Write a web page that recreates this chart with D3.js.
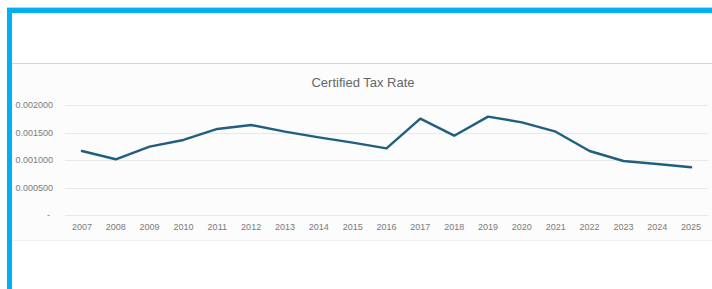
<!DOCTYPE html>
<html>
<head>
<meta charset="utf-8">
<script src="https://cdn.jsdelivr.net/npm/d3@7"></script>
<style>
  html, body { margin: 0; padding: 0; background: #fff; }
  svg { display: block; }
</style>
</head>
<body>
<svg id="chart" width="712" height="289"></svg>
<script>
const years = ["2007","2008","2009","2010","2011","2012","2013","2014","2015","2016","2017","2018","2019","2020","2021","2022","2023","2024","2025"];
const taxRates = [0.001164,0.001013,0.001242,0.001364,0.001564,0.001636,0.001515,0.001412,0.001315,0.001212,0.001752,0.001442,0.001788,0.001685,0.001515,0.001164,0.000982,0.000927,0.000867];
const yTicks = [0, 0.0005, 0.001, 0.0015, 0.002];
const title = "Certified Tax Rate";

const svg = d3.select("#chart");
const W = 712, H = 289;
const font = "'Liberation Sans', Arial, sans-serif";

// chart panel background
svg.append("rect").attr("x", 12).attr("y", 63).attr("width", W - 12).attr("height", 177).attr("fill", "#fcfcfc");
svg.append("line").attr("x1", 12).attr("x2", W).attr("y1", 63.5).attr("y2", 63.5).attr("stroke", "#d4d4d4").attr("stroke-width", 1);
svg.append("line").attr("x1", 12).attr("x2", W).attr("y1", 240.5).attr("y2", 240.5).attr("stroke", "#efefef").attr("stroke-width", 1);

const x = d3.scaleBand().domain(years).range([65, 708]);
const y = d3.scaleLinear().domain([0, 0.002]).range([215, 105]);

// gridlines
svg.append("g").selectAll("line").data(yTicks).join("line")
  .attr("x1", 65).attr("x2", 708)
  .attr("y1", d => Math.round(y(d)) + 0.5).attr("y2", d => Math.round(y(d)) + 0.5)
  .attr("stroke", "#e8e8e8").attr("stroke-width", 1.2);

// y axis labels
const fmt = d => d === 0 ? "-" : d.toFixed(6);
svg.append("g").selectAll("text").data(yTicks).join("text")
  .attr("x", d => d === 0 ? 50 : 53).attr("y", d => y(d)).attr("dy", "0.35em")
  .attr("text-anchor", "end").attr("font-family", font).attr("font-size", 9)
  .attr("fill", "#7a7a7a").text(fmt);

// x axis labels
const xAxis = d3.axisBottom(x).tickSize(0).tickPadding(0);
const gx = svg.append("g").attr("transform", "translate(0,224)").call(xAxis);
gx.select(".domain").remove();
gx.selectAll("text").attr("font-family", font).attr("font-size", 9).attr("fill", "#7a7a7a").attr("dy", "0.7em");

// line
const line = d3.line().x((d, i) => x(years[i]) + x.bandwidth() / 2).y(d => y(d));
svg.append("path").datum(taxRates).attr("d", line)
  .attr("fill", "none").attr("stroke", "#1f5f80").attr("stroke-width", 2.4)
  .attr("stroke-linejoin", "round").attr("stroke-linecap", "round");

// title
svg.append("text").attr("x", 363).attr("y", 82).attr("dy", "0.35em").attr("text-anchor", "middle")
  .attr("font-family", font).attr("font-size", 13).attr("fill", "#666").text(title);

// blue frame
svg.append("rect").attr("x", 7).attr("y", 8).attr("width", W - 7).attr("height", 5).attr("fill", "#00b0f0");
svg.append("rect").attr("x", 7).attr("y", 8).attr("width", 5).attr("height", H - 8).attr("fill", "#00b0f0");
svg.append("line").attr("x1", 7).attr("x2", W).attr("y1", 7.5).attr("y2", 7.5).attr("stroke", "#9fdcf5").attr("stroke-width", 1);
</script>
</body>
</html>
